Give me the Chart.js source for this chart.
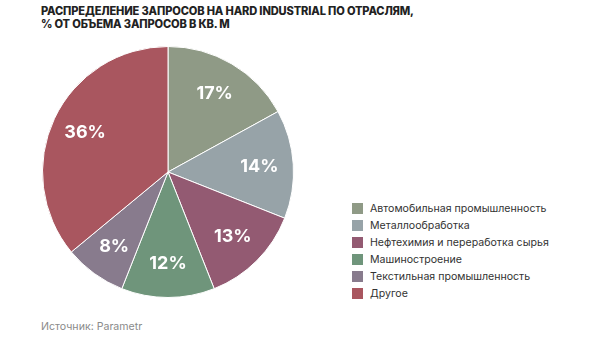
<!DOCTYPE html>
<html lang="ru">
<head>
<meta charset="UTF-8">
<title>Hard Industrial</title>
<script src="https://cdn.jsdelivr.net/npm/chart.js"></script>
<style>
  body { margin: 0; width: 600px; height: 338px; background: #fff; font-family: Inter, "Noto Sans", sans-serif; position: relative; overflow: hidden; }
  .title { position: absolute; left: 41px; top: 5px; font-size: 11.1px; font-weight: 800; line-height: 13px; color: #222; letter-spacing: -0.15px; }
  .pie { position: absolute; left: 42px; top: 46px; width: 252px; height: 252px; }
  .legend { position: absolute; left: 352px; top: 200px; margin: 0; padding: 0; list-style: none; font-size: 10.6px; color: #333; }
  .legend li { height: 17px; line-height: 17px; display: flex; align-items: center; }
  .legend i { display: inline-block; width: 11px; height: 11px; margin-right: 7px; }
  .source { position: absolute; left: 41px; top: 320px; font-size: 10.6px; color: #8a8a8a; }
</style>
</head>
<body>
<div class="title">РАСПРЕДЕЛЕНИЕ ЗАПРОСОВ НА HARD INDUSTRIAL ПО ОТРАСЛЯМ,<br>% ОТ ОБЪЕМА ЗАПРОСОВ В КВ. М</div>
<div class="pie"><canvas id="pieChart"></canvas></div>
<ul class="legend" id="legend"></ul>
<div class="source">Источник: Parametr</div>
<script>
const sectors = ['Автомобильная промышленность', 'Металлообработка', 'Нефтехимия и переработка сырья', 'Машиностроение', 'Текстильная промышленность', 'Другое'];
const shares = [17, 14, 13, 12, 8, 36];
const colors = ['#8f9a86', '#97a3a8', '#935a72', '#6f957b', '#887b8d', '#a9565f'];

// legend list
const legend = document.getElementById('legend');
sectors.forEach((name, i) => {
  const li = document.createElement('li');
  li.innerHTML = `<i style="background:${colors[i]}"></i>${name}`;
  legend.appendChild(li);
});

// percent labels inside slices
const sliceLabels = {
  id: 'sliceLabels',
  afterDatasetsDraw(chart) {
    const ctx = chart.ctx;
    const meta = chart.getDatasetMeta(0);
    ctx.save();
    ctx.fillStyle = '#fff';
    ctx.font = '700 18px Inter, "Noto Sans", sans-serif';
    ctx.textAlign = 'center';
    ctx.textBaseline = 'middle';
    meta.data.forEach((arc, i) => {
      const mid = (arc.startAngle + arc.endAngle) / 2;
      const r = arc.outerRadius * 0.73;
      ctx.fillText(shares[i] + '%', arc.x + Math.cos(mid) * r, arc.y + Math.sin(mid) * r);
    });
    ctx.restore();
  }
};

new Chart(document.getElementById('pieChart'), {
  type: 'pie',
  data: {
    labels: sectors,
    datasets: [{
      data: shares,
      backgroundColor: colors,
      borderColor: '#fff',
      borderWidth: 1
    }]
  },
  options: {
    responsive: true,
    maintainAspectRatio: false,
    animation: false,
    plugins: {
      legend: { display: false },
      tooltip: { enabled: false }
    }
  },
  plugins: [sliceLabels]
});
</script>
</body>
</html>
